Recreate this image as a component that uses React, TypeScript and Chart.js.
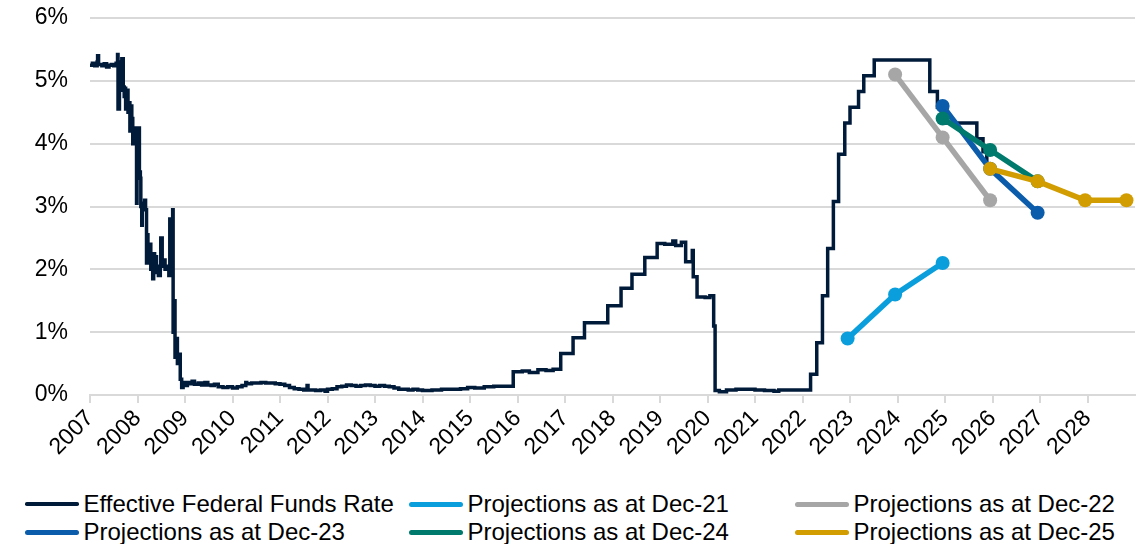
import React, { useEffect, useRef } from 'react';
import { Chart, registerables } from 'chart.js';

Chart.register(...registerables);

const FONT = '"Liberation Sans", Arial, Helvetica, sans-serif';

// Effective Federal Funds Rate (%), step points: time in fractional years, rate from that time on
const effrTime = [
  2007.0, 2007.05, 2007.1, 2007.15, 2007.16, 2007.18, 2007.25, 2007.3, 2007.35, 2007.4,
  2007.45, 2007.5, 2007.55, 2007.58, 2007.59, 2007.62, 2007.63, 2007.65, 2007.67, 2007.7,
  2007.72, 2007.73, 2007.75, 2007.77, 2007.79, 2007.8, 2007.82, 2007.84, 2007.86, 2007.88,
  2007.9, 2007.92, 2007.93, 2007.97, 2007.98, 2007.99, 2008.02, 2008.04, 2008.06, 2008.07,
  2008.09, 2008.1, 2008.13, 2008.15, 2008.17, 2008.19, 2008.2, 2008.22, 2008.24, 2008.26,
  2008.28, 2008.3, 2008.32, 2008.34, 2008.36, 2008.38, 2008.4, 2008.42, 2008.44, 2008.48,
  2008.49, 2008.52, 2008.55, 2008.58, 2008.62, 2008.66, 2008.68, 2008.7, 2008.74, 2008.75,
  2008.77, 2008.79, 2008.82, 2008.84, 2008.87, 2008.9, 2008.93, 2008.96,
  2009.0, 2009.05, 2009.1, 2009.15, 2009.2, 2009.28, 2009.35, 2009.42, 2009.48, 2009.55,
  2009.62, 2009.7, 2009.8, 2009.9, 2010.0, 2010.1, 2010.2, 2010.28, 2010.3, 2010.4,
  2010.5, 2010.6, 2010.7, 2010.8, 2010.9, 2011.0, 2011.1, 2011.2, 2011.3, 2011.4,
  2011.5, 2011.57, 2011.59, 2011.75, 2011.85, 2011.95, 2012.0, 2012.1, 2012.2, 2012.3,
  2012.4, 2012.5, 2012.6, 2012.7, 2012.8, 2012.9, 2013.0, 2013.1, 2013.2, 2013.3,
  2013.4, 2013.5, 2013.6, 2013.7, 2013.8, 2013.9, 2014.0, 2014.2, 2014.4, 2014.6,
  2014.8, 2014.95, 2015.1, 2015.3, 2015.5, 2015.7, 2015.91, 2016.1, 2016.25, 2016.43,
  2016.6, 2016.75, 2016.91, 2017.17, 2017.41, 2017.9, 2018.18, 2018.41, 2018.68, 2018.94,
  2019.1, 2019.27, 2019.33, 2019.45, 2019.54, 2019.68, 2019.7, 2019.78, 2019.95, 2020.05,
  2020.13, 2020.16, 2020.25, 2020.4, 2020.6, 2020.8, 2021.0, 2021.2, 2021.4, 2021.5,
  2021.7, 2021.9, 2022.0, 2022.17, 2022.3, 2022.42, 2022.53, 2022.65, 2022.76, 2022.89,
  2023.0, 2023.18, 2023.29, 2023.51, 2024.68, 2024.84, 2024.96, 2025.67, 2025.8, 2025.88,
  2025.92,
];
const effrRate = [
  5.25, 5.28, 5.24, 5.3, 5.4, 5.26, 5.24, 5.27, 5.22, 5.25,
  5.26, 5.24, 5.28, 5.42, 4.55, 5.0, 4.85, 5.3, 5.35, 4.9,
  4.75, 4.88, 4.55, 4.8, 4.85, 4.5, 4.65, 4.2, 4.6, 4.4,
  4.0, 4.25, 4.25, 4.15, 3.05, 4.2, 4.25, 3.55, 3.45, 3.0,
  2.7, 3.05, 3.0, 3.1, 2.95, 2.1, 2.55, 2.3, 2.1, 2.4,
  2.0, 2.2, 1.85, 2.25, 1.95, 2.2, 2.0, 2.05, 1.9, 2.05,
  2.5, 2.05, 2.15, 2.0, 2.05, 1.9, 2.8, 2.0, 2.95, 1.0,
  1.5, 0.6, 0.9, 0.5, 0.65, 0.25, 0.12, 0.2,
  0.15, 0.2, 0.18, 0.22, 0.17, 0.19, 0.16, 0.2, 0.16, 0.15,
  0.17, 0.13, 0.12, 0.13, 0.11, 0.13, 0.15, 0.2, 0.18, 0.19,
  0.19, 0.2, 0.19, 0.19, 0.18, 0.17, 0.15, 0.12, 0.1, 0.09,
  0.08, 0.15, 0.08, 0.07, 0.08, 0.06, 0.09, 0.1, 0.13, 0.14,
  0.16, 0.15, 0.14, 0.15, 0.16, 0.15, 0.14, 0.15, 0.14, 0.13,
  0.11, 0.09, 0.09, 0.08, 0.09, 0.08, 0.07, 0.08, 0.09, 0.09,
  0.1, 0.12, 0.11, 0.13, 0.14, 0.14, 0.37, 0.38, 0.36, 0.4,
  0.39, 0.41, 0.66, 0.91, 1.15, 1.42, 1.7, 1.92, 2.19, 2.41,
  2.4, 2.45, 2.38, 2.43, 2.12, 2.3, 1.88, 1.56, 1.55, 1.58,
  1.1, 0.07, 0.05, 0.08, 0.09, 0.09, 0.08, 0.07, 0.06, 0.08,
  0.08, 0.08, 0.08, 0.33, 0.83, 1.58, 2.33, 3.08, 3.83, 4.33,
  4.58, 4.83, 5.08, 5.33, 4.83, 4.58, 4.33, 4.08, 3.87, 3.64,
  3.64,
];

// FOMC median projections (year-end), by the meeting they were published at
const projDec21Time = [2022.95, 2023.95, 2024.95];
const projDec21Rate = [0.9, 1.6, 2.1];
const projDec22Time = [2023.95, 2024.95, 2025.95];
const projDec22Rate = [5.1, 4.1, 3.1];
const projDec23Time = [2024.95, 2025.95, 2026.95];
const projDec23Rate = [4.6, 3.6, 2.9];
const projDec24Time = [2024.95, 2025.95, 2026.95];
const projDec24Rate = [4.4, 3.9, 3.4];
const projDec25Time = [2025.95, 2026.95, 2027.95, 2028.82];
const projDec25Rate = [3.6, 3.4, 3.1, 3.1];

const yearTicks = [2007, 2008, 2009, 2010, 2011, 2012, 2013, 2014, 2015, 2016, 2017,
  2018, 2019, 2020, 2021, 2022, 2023, 2024, 2025, 2026, 2027, 2028];
const rateTicks = [0, 1, 2, 3, 4, 5, 6];

const seriesNames = [
  'Effective Federal Funds Rate',
  'Projections as at Dec-21',
  'Projections as at Dec-22',
  'Projections as at Dec-23',
  'Projections as at Dec-24',
  'Projections as at Dec-25',
];
const seriesColors = ['#001a3a', '#0a9fdc', '#a6a6a6', '#0b5cab', '#007a6d', '#d29d00'];

const pairs = (t: number[], v: number[]) => t.map((x, i) => ({ x, y: v[i] }));

const CANVAS_W = 1142;
const CANVAS_H = 480;

export default function App() {
  const canvasRef = useRef<HTMLCanvasElement>(null);

  useEffect(() => {
    document.body.style.margin = '0';
    const projections = [
      [projDec21Time, projDec21Rate],
      [projDec22Time, projDec22Rate],
      [projDec23Time, projDec23Rate],
      [projDec24Time, projDec24Rate],
      [projDec25Time, projDec25Rate],
    ];
    const datasets: any[] = [
      {
        label: seriesNames[0],
        data: pairs(effrTime, effrRate),
        borderColor: seriesColors[0],
        backgroundColor: seriesColors[0],
        borderWidth: 3.5,
        pointRadius: 0,
        stepped: true,
        order: 10,
      },
      ...projections.map(([t, v], i) => ({
        label: seriesNames[i + 1],
        data: pairs(t, v),
        borderColor: seriesColors[i + 1],
        backgroundColor: seriesColors[i + 1],
        pointBackgroundColor: seriesColors[i + 1],
        pointBorderWidth: 0,
        pointRadius: 7,
        borderWidth: 5.5,
        order: 6 - i,
      })),
    ];

    const chart = new Chart(canvasRef.current!, {
      type: 'line',
      data: { datasets },
      options: {
        responsive: false,
        animation: false,
        events: [],
        layout: { padding: { top: 18, right: 5, left: 0, bottom: 0 } },
        plugins: { legend: { display: false }, tooltip: { enabled: false } },
        scales: {
          x: {
            type: 'linear',
            min: 2007,
            max: 2029,
            afterBuildTicks: (scale: any) => {
              scale.ticks = yearTicks.map((value) => ({ value }));
            },
            afterFit: (scale: any) => {
              scale.height = 85;
            },
            ticks: {
              autoSkip: false,
              minRotation: 45,
              maxRotation: 45,
              padding: 2,
              color: '#000',
              font: { family: FONT, size: 23 },
              callback: (v: any) => String(v),
            },
            grid: {
              drawOnChartArea: false,
              drawTicks: true,
              tickLength: 8,
              color: '#d9d9d9',
              lineWidth: 2,
            },
            border: { display: true, color: '#d9d9d9', width: 2 },
          },
          y: {
            min: 0,
            max: 6,
            afterBuildTicks: (scale: any) => {
              scale.ticks = rateTicks.map((value) => ({ value }));
            },
            afterFit: (scale: any) => {
              scale.width = 90;
            },
            ticks: {
              padding: 0,
              color: '#000',
              font: { family: FONT, size: 23 },
              callback: (v: any) => `${v}%`,
            },
            // invisible tick marks keep the labels clear of the plot edge
            grid: {
              color: '#d9d9d9',
              lineWidth: 2,
              drawTicks: true,
              tickLength: 22,
              tickColor: 'rgba(0,0,0,0)',
            },
            border: { display: false },
          },
        },
      },
    });
    return () => chart.destroy();
  }, []);

  const colX = [25, 409, 795];
  const rowY = [504, 532];

  return (
    <div
      style={{
        position: 'relative',
        width: CANVAS_W,
        height: 544,
        background: '#fff',
        fontFamily: FONT,
        overflow: 'hidden',
      }}
    >
      <canvas
        ref={canvasRef}
        width={CANVAS_W}
        height={CANVAS_H}
        style={{ position: 'absolute', left: 0, top: 0, width: CANVAS_W, height: CANVAS_H }}
      />
      {seriesNames.map((name, i) => {
        const col = i % 3;
        const row = Math.floor(i / 3);
        const thick = i === 0 ? 3.5 : 5;
        return (
          <div
            key={name}
            style={{
              position: 'absolute',
              left: colX[col],
              top: rowY[row] - 15,
              height: 30,
              display: 'flex',
              alignItems: 'center',
              whiteSpace: 'nowrap',
            }}
          >
            <span
              style={{
                display: 'inline-block',
                width: 54,
                height: thick,
                borderRadius: thick / 2,
                background: seriesColors[i],
                marginRight: 4.5,
              }}
            />
            <span style={{ fontSize: 24, color: '#000', lineHeight: '30px' }}>{name}</span>
          </div>
        );
      })}
    </div>
  );
}
